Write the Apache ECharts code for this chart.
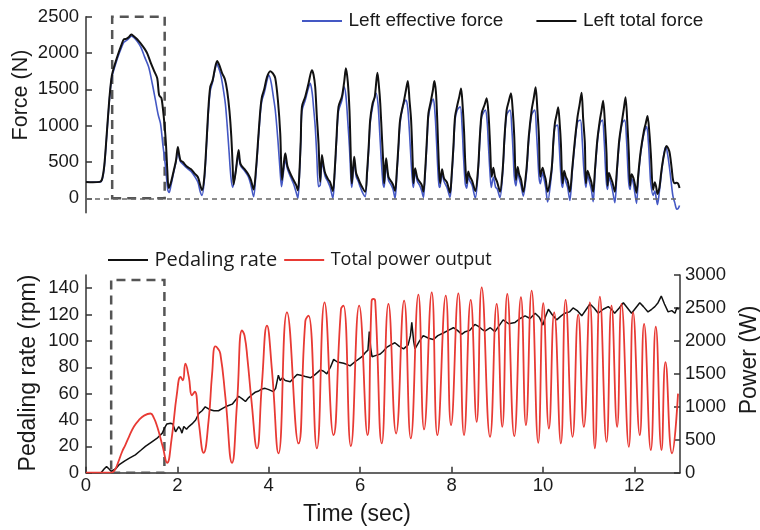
<!DOCTYPE html>
<html>
<head>
<meta charset="utf-8">
<script src="https://cdn.jsdelivr.net/npm/echarts@6/dist/echarts.min.js"></script>
<style>html,body{margin:0;padding:0;background:#fff}#c{width:760px;height:530px}</style>
</head>
<body>
<div id="c"></div>
<script>
// ---- Data (time in s) ----
const timeTicks = [0, 2, 4, 6, 8, 10, 12];
const forceTicks = [0, 500, 1000, 1500, 2000, 2500];
const rateTicks = [0, 20, 40, 60, 80, 100, 120, 140];
const powerTicks = [0, 500, 1000, 1500, 2000, 2500, 3000];

const totalForce = [
[0,225],[0.15,220],[0.3,226],[0.35,260],[0.4,450],[0.45,850],[0.5,1280],[0.54,1560],[0.57,1700],[0.62,1820],[0.7,1980],[0.78,2120],[0.83,2190],[0.88,2195],[0.94,2220],[0.99,2255],[1.04,2235],[1.12,2190],[1.2,2130],[1.28,2060],[1.34,1995],[1.42,1860],[1.5,1740],[1.56,1650],[1.6,1420],[1.65,1380],[1.68,1250],[1.72,1000],[1.75,750],[1.78,380],[1.81,140],[1.86,220],[1.92,380],[1.97,520],[2.01,705],[2.04,600],[2.07,520],[2.12,500],[2.2,440],[2.3,400],[2.38,340],[2.45,290],[2.5,180],[2.54,110],
[2.59,300],[2.64,800],[2.68,1250],[2.72,1536],[2.77,1620],[2.82,1780],[2.87,1889],[2.92,1830],[2.98,1720],[3.04,1640],[3.09,1480],[3.14,1200],[3.18,850],[3.21,450],[3.23,190],[3.28,380],[3.34,665],[3.37,500],[3.4,450],[3.47,400],[3.55,330],[3.61,250],[3.668,120],
[3.72,400],[3.777,894],[3.82,1250],[3.851,1398],[3.9,1500],[3.961,1669],[4.033,1750],[4.09,1720],[4.142,1654],[4.2,1350],[4.251,894],[4.289,252],[4.32,420],[4.361,619],[4.411,436],[4.48,330],[4.542,252],[4.6,180],[4.638,110],
[4.67,350],[4.7,800],[4.726,1260],[4.798,1398],[4.87,1580],[4.944,1764],[4.98,1700],[5.016,1536],[5.05,1150],[5.089,757],[5.126,228],[5.163,596],[5.2,450],[5.235,344],[5.3,260],[5.344,220],[5.403,100],
[5.44,350],[5.48,800],[5.526,1260],[5.6,1398],[5.65,1600],[5.688,1789],[5.73,1600],[5.766,1215],[5.79,700],[5.803,389],[5.818,206],[5.869,572],[5.913,344],[5.96,270],[6.0,206],[6.109,90],
[6.15,350],[6.19,750],[6.219,1077],[6.27,1300],[6.32,1398],[6.378,1728],[6.41,1550],[6.44,1307],[6.48,800],[6.51,435],[6.525,206],[6.568,550],[6.619,297],[6.68,230],[6.72,183],[6.765,100],
[6.8,350],[6.84,750],[6.874,1077],[6.962,1352],[7.0,1480],[7.043,1614],[7.08,1350],[7.115,1077],[7.151,481],[7.166,206],[7.202,413],[7.253,275],[7.3,230],[7.348,183],[7.384,91],
[7.42,350],[7.46,800],[7.494,1170],[7.545,1329],[7.59,1480],[7.624,1614],[7.66,1450],[7.69,1031],[7.72,500],[7.749,206],[7.792,400],[7.836,275],[7.9,220],[7.967,77],
[8.0,300],[8.04,700],[8.077,1123],[8.127,1284],[8.17,1400],[8.208,1513],[8.24,1300],[8.273,940],[8.3,500],[8.332,206],[8.367,367],[8.4,300],[8.45,240],[8.52,100],
[8.58,400],[8.62,850],[8.66,1170],[8.72,1280],[8.769,1376],[8.81,1150],[8.842,757],[8.878,297],[8.914,420],[8.95,300],[9.0,220],[9.06,90],
[9.12,400],[9.16,850],[9.206,1215],[9.25,1330],[9.301,1445],[9.34,1200],[9.373,848],[9.41,252],[9.447,430],[9.48,330],[9.52,260],[9.57,90],
[9.64,400],[9.69,850],[9.753,1215],[9.8,1380],[9.84,1527],[9.88,1200],[9.913,848],[9.941,297],[9.993,420],[10.03,330],[10.06,260],[10.103,90],
[10.19,400],[10.23,800],[10.262,1032],[10.3,1150],[10.334,1252],[10.37,1000],[10.393,757],[10.43,206],[10.466,380],[10.5,300],[10.54,240],[10.59,90],
[10.64,400],[10.7,800],[10.758,1123],[10.8,1280],[10.846,1453],[10.88,1100],[10.918,757],[10.94,206],[10.977,380],[11.02,300],[11.06,220],[11.1,90],
[11.14,400],[11.19,800],[11.246,1077],[11.28,1200],[11.318,1343],[11.36,1000],[11.392,620],[11.414,174],[11.443,350],[11.48,290],[11.52,220],[11.574,90],
[11.62,400],[11.67,800],[11.733,1077],[11.77,1230],[11.808,1390],[11.85,1000],[11.88,620],[11.908,174],[11.939,330],[11.98,280],[12.01,200],[12.048,77],
[12.09,350],[12.14,650],[12.214,940],[12.25,1030],[12.289,1132],[12.33,900],[12.361,619],[12.411,114],[12.448,220],[12.48,150],[12.507,60],
[12.55,150],[12.595,389],[12.65,600],[12.704,720],[12.74,690],[12.776,619],[12.82,400],[12.848,252],[12.885,206],[12.93,215],[12.96,200],[12.99,140]
];

const effectiveForce = [
[0,220],[0.3,222],[0.35,250],[0.4,430],[0.45,830],[0.5,1260],[0.54,1540],[0.57,1680],[0.62,1790],[0.7,1950],[0.78,2080],[0.83,2150],[0.88,2170],[0.94,2200],[0.99,2230],[1.05,2210],[1.12,2160],[1.2,2080],[1.28,1950],[1.37,1810],[1.45,1580],[1.52,1350],[1.58,1150],[1.63,1030],[1.68,750],[1.74,435],[1.79,114],[1.82,80],[1.86,180],[1.92,360],[1.97,500],[2.01,650],[2.04,560],[2.07,500],[2.12,470],[2.2,420],[2.3,370],[2.38,300],[2.45,220],[2.5,90],[2.54,40],
[2.59,250],[2.64,750],[2.68,1200],[2.72,1480],[2.77,1600],[2.82,1760],[2.86,1860],[2.9,1800],[2.95,1700],[3.0,1520],[3.05,1300],[3.09,1000],[3.13,650],[3.17,300],[3.21,150],[3.26,300],[3.32,560],[3.34,600],[3.37,470],[3.4,430],[3.47,380],[3.55,300],[3.61,180],[3.668,20],
[3.72,350],[3.777,850],[3.82,1200],[3.851,1350],[3.9,1450],[3.961,1620],[4.0,1697],[4.05,1600],[4.1,1400],[4.142,1215],[4.2,800],[4.251,350],[4.28,160],[4.32,350],[4.361,527],[4.411,400],[4.48,290],[4.542,200],[4.6,80],[4.638,0],
[4.67,300],[4.7,760],[4.726,1200],[4.798,1350],[4.86,1500],[4.907,1582],[4.95,1450],[4.98,1250],[5.016,990],[5.05,600],[5.089,160],[5.126,180],[5.163,500],[5.2,400],[5.235,300],[5.3,220],[5.344,150],[5.403,0],
[5.44,300],[5.48,760],[5.526,1200],[5.6,1350],[5.65,1536],[5.69,1400],[5.73,1050],[5.766,700],[5.8,250],[5.818,150],[5.869,500],[5.913,300],[5.96,230],[6.0,160],[6.05,80],[6.109,22],
[6.15,300],[6.19,700],[6.219,1030],[6.27,1250],[6.35,1445],[6.39,1300],[6.42,1000],[6.46,550],[6.5,200],[6.525,150],[6.568,480],[6.619,250],[6.68,180],[6.72,120],[6.765,0],
[6.8,300],[6.84,700],[6.874,1030],[6.93,1250],[7.0,1352],[7.04,1250],[7.08,900],[7.12,450],[7.151,200],[7.166,150],[7.202,360],[7.253,230],[7.3,180],[7.348,100],[7.384,10],
[7.42,300],[7.46,750],[7.494,1120],[7.545,1280],[7.6,1367],[7.64,1150],[7.67,800],[7.7,400],[7.73,150],[7.749,160],[7.792,340],[7.836,230],[7.9,150],[7.967,10],
[8.0,250],[8.04,650],[8.077,1080],[8.127,1220],[8.19,1260],[8.23,1000],[8.26,600],[8.3,200],[8.332,140],[8.367,300],[8.4,240],[8.45,180],[8.52,0],
[8.58,350],[8.62,800],[8.66,1120],[8.74,1215],[8.78,1050],[8.81,700],[8.842,350],[8.87,150],[8.914,290],[8.966,150],[9.0,130],[9.06,10],
[9.12,350],[9.16,800],[9.206,1150],[9.28,1215],[9.32,950],[9.35,600],[9.373,300],[9.41,170],[9.447,380],[9.48,270],[9.52,180],[9.57,30],
[9.64,350],[9.69,800],[9.753,1150],[9.82,1215],[9.86,900],[9.89,550],[9.913,300],[9.941,200],[9.993,350],[10.03,250],[10.06,150],[10.103,-50],
[10.19,350],[10.23,760],[10.262,980],[10.32,1009],[10.35,800],[10.38,450],[10.41,200],[10.43,150],[10.466,320],[10.5,230],[10.54,150],[10.59,-30],
[10.64,350],[10.7,760],[10.758,1050],[10.82,1077],[10.86,800],[10.89,450],[10.918,250],[10.94,150],[10.977,320],[11.02,220],[11.06,120],[11.1,-47],
[11.14,350],[11.19,760],[11.246,1030],[11.3,1077],[11.34,800],[11.37,400],[11.392,200],[11.414,120],[11.443,290],[11.48,220],[11.52,120],[11.574,-60],
[11.62,350],[11.67,760],[11.733,1030],[11.79,1077],[11.83,800],[11.86,400],[11.88,200],[11.908,120],[11.939,270],[11.98,200],[12.01,80],[12.048,-70],
[12.09,300],[12.14,620],[12.214,900],[12.27,986],[12.31,750],[12.34,400],[12.361,200],[12.411,40],[12.448,100],[12.48,0],[12.507,-87],
[12.55,100],[12.595,350],[12.65,619],[12.69,710],[12.73,600],[12.776,389],[12.82,150],[12.848,22],[12.885,-60],[12.93,-150],[12.96,-140],[12.99,-100]
];

const pedalingRate = [
[0,0],[0.33,0],[0.4,3],[0.45,4.6],[0.5,3],[0.55,1],[0.58,0.5],[0.65,3],[0.72,5.9],[0.85,9],[0.95,11],[1.08,13.5],[1.2,17],[1.3,20],[1.45,23.6],[1.55,26],[1.67,30],[1.72,34],[1.77,37],[1.85,37.5],[1.9,37],[1.96,31],[2.03,35],[2.07,33],[2.1,30],[2.14,35],[2.17,36],[2.2,33],[2.25,35],[2.32,37],[2.4,40],[2.47,45],[2.54,47],[2.61,50],[2.7,48],[2.8,47],[2.9,47],[3.0,49],[3.05,50],[3.12,51],[3.2,52],[3.27,55],[3.34,58],[3.42,56],[3.49,54],[3.56,57],[3.63,59],[3.7,61],[3.78,62],[3.85,63.5],[3.92,64],[4.0,63],[4.1,61.5],[4.15,64],[4.21,74],[4.25,70],[4.3,72],[4.36,70],[4.47,69],[4.55,72],[4.62,74.5],[4.7,74],[4.8,73],[4.91,72],[5.0,74],[5.13,78],[5.2,77],[5.27,75],[5.35,80],[5.42,86],[5.5,84],[5.64,83],[5.72,82],[5.78,81],[5.88,84],[5.96,86],[6.04,88],[6.11,91],[6.17,93],[6.2,107],[6.23,95],[6.26,88],[6.35,89],[6.44,90],[6.5,92],[6.58,95],[6.67,97],[6.76,98.6],[6.85,96],[6.95,94],[7.05,97],[7.1,104],[7.13,114],[7.17,100],[7.2,94],[7.3,100],[7.38,104],[7.5,102],[7.6,101],[7.7,104],[7.82,106],[7.93,108],[8.04,110],[8.13,108],[8.22,105],[8.3,107],[8.4,108],[8.51,112.5],[8.59,111],[8.66,109],[8.73,107.4],[8.85,110],[8.95,107],[9.05,112],[9.13,116],[9.25,113],[9.39,114],[9.5,117],[9.61,119],[9.72,117],[9.83,121],[9.92,118],[10.0,112],[10.05,118],[10.12,124],[10.2,120],[10.3,116],[10.4,119],[10.48,121],[10.58,122],[10.66,125],[10.75,123],[10.85,119],[10.95,124],[11.03,128],[11.12,125],[11.21,121],[11.32,124],[11.43,126],[11.5,124],[11.57,121],[11.67,125],[11.76,129],[11.85,125],[11.94,121],[12.03,125],[12.12,129],[12.2,126],[12.3,122],[12.38,124],[12.45,126],[12.52,129],[12.59,134],[12.66,128],[12.74,122],[12.82,123],[12.89,121],[12.93,125],[12.97,124]
];

const powerOutput = [
[0,0],[0.55,0],[0.62,30],[0.7,150],[0.79,318],[0.86,420],[0.94,545],[1.05,700],[1.16,800],[1.28,870],[1.41,898],[1.48,840],[1.56,696],[1.68,393],[1.775,151],[1.87,494],[1.99,1200],[2.07,1452],[2.12,1402],[2.175,1654],[2.25,1452],[2.32,1175],[2.38,1230],[2.47,747],[2.575,302],[2.684,797],[2.76,1500],[2.83,1916],[2.88,1890],[2.94,1805],[3.05,1149],[3.196,151],[3.305,1049],[3.414,2158],[3.47,2080],[3.537,1704],[3.62,1100],[3.742,369],[3.85,1350],[3.961,2233],[4.07,1553],[4.214,293],[4.398,2434],[4.651,444],[4.80,2300],[4.87,2384],[5.053,369],[5.22,2586],[5.416,570],[5.58,2480],[5.635,2536],[5.797,404],[5.978,2536],[6.16,570],[6.25,2600],[6.291,2637],[6.33,2600],[6.474,444],[6.619,2561],[6.787,595],[6.962,2611],[7.108,520],[7.274,2702],[7.399,656],[7.567,2737],[7.69,570],[7.873,2687],[7.989,721],[8.149,2722],[8.273,570],[8.42,2622],[8.55,772],[8.66,2813],[8.842,545],[8.988,2561],[9.111,696],[9.22,2712],[9.373,555],[9.519,2662],[9.628,721],[9.753,2762],[9.897,454],[10.007,2571],[10.131,671],[10.247,2434],[10.393,444],[10.496,2622],[10.649,545],[10.772,2400],[10.896,696],[11.027,2586],[11.137,369],[11.246,2672],[11.392,469],[11.501,2536],[11.624,696],[11.72,2561],[11.88,393],[11.974,2434],[12.12,570],[12.214,2259],[12.361,343],[12.47,2218],[12.595,343],[12.682,1678],[12.826,293],[12.957,1200]
];

const seriesNames = ['Left effective force', 'Left total force', 'Pedaling rate', 'Total power output'];

// ---- Styles ----
const FONT = '"Liberation Sans", Arial, sans-serif';
const TXT = '#1a1a1a';
const AX = '#333';
const BLUE = '#4458c4';
const RED = '#e83a34';
const BLK = '#111';
const LINE_ICON = 'path://M0,0 L40,0 L40,2 L0,2 Z';
const plain = v => String(v);

const axisCommon = {
  axisLine: { show: true, lineStyle: { color: AX, width: 1.5 } },
  axisTick: { show: true, inside: true, length: 6, lineStyle: { color: AX, width: 1.5 } },
  splitLine: { show: false },
  axisLabel: { color: TXT, fontSize: 18.5, fontFamily: FONT, formatter: plain }
};

const chart = echarts.init(document.getElementById('c'), null, { renderer: 'canvas' });
chart.setOption({
  animation: false,
  backgroundColor: '#fff',
  textStyle: { fontFamily: FONT },
  grid: [
    { left: 86, right: 80, top: 16.7, height: 196.1 },
    { left: 86, right: 80, top: 275, height: 197.7 }
  ],
  legend: [
    {
      data: [
        { name: seriesNames[0], icon: LINE_ICON },
        { name: seriesNames[1], icon: LINE_ICON }
      ],
      left: 297, top: 6,
      itemWidth: 43, itemHeight: 2, itemGap: 33,
      textStyle: { fontSize: 19, color: TXT, fontFamily: FONT, lineHeight: 20 }
    },
    {
      data: [
        { name: seriesNames[2], icon: LINE_ICON, textStyle: { fontSize: 20, fontFamily: '"Open Sans", sans-serif', color: TXT } },
        { name: seriesNames[3], icon: LINE_ICON, textStyle: { fontSize: 18, fontFamily: '"Open Sans", sans-serif', color: TXT } }
      ],
      left: 103, top: 243,
      itemWidth: 43, itemHeight: 2, itemGap: 7,
      textStyle: { lineHeight: 24, color: TXT }
    }
  ],
  xAxis: [
    { type: 'value', gridIndex: 0, min: 0, max: 13, show: false },
    Object.assign({}, axisCommon, {
      type: 'value', gridIndex: 1, min: 0, max: 13,
      axisTick: Object.assign({}, axisCommon.axisTick, { customValues: timeTicks }),
      axisLabel: Object.assign({}, axisCommon.axisLabel, { customValues: timeTicks, margin: 4 })
    })
  ],
  yAxis: [
    Object.assign({}, axisCommon, {
      type: 'value', gridIndex: 0, min: -200, max: 2500,
      axisTick: Object.assign({}, axisCommon.axisTick, { customValues: forceTicks }),
      axisLabel: Object.assign({}, axisCommon.axisLabel, { customValues: forceTicks, margin: 7 })
    }),
    Object.assign({}, axisCommon, {
      type: 'value', gridIndex: 1, min: 0, max: 150,
      axisTick: Object.assign({}, axisCommon.axisTick, { customValues: rateTicks }),
      axisLabel: Object.assign({}, axisCommon.axisLabel, { customValues: rateTicks, margin: 7 })
    }),
    Object.assign({}, axisCommon, {
      type: 'value', gridIndex: 1, position: 'right', min: 0, max: 3000, interval: 500,
      axisTick: Object.assign({}, axisCommon.axisTick, { customValues: powerTicks }),
      axisLabel: Object.assign({}, axisCommon.axisLabel, { customValues: powerTicks, margin: 5 })
    })
  ],
  series: [
    {
      name: seriesNames[0], type: 'line', xAxisIndex: 0, yAxisIndex: 0,
      data: effectiveForce, symbol: 'none', smooth: 0.3,
      lineStyle: { color: BLUE, width: 1.6 }, itemStyle: { color: BLUE },
      markLine: {
        silent: true, symbol: ['none', 'none'], label: { show: false },
        lineStyle: { color: '#666', width: 1.5, type: [5, 4] },
        data: [{ yAxis: 0 }]
      },
      markArea: {
        silent: true,
        itemStyle: { color: 'rgba(0,0,0,0)', borderColor: '#555', borderWidth: 2.5, borderType: [9, 6] },
        data: [[{ xAxis: 0.573, yAxis: 0 }, { xAxis: 1.722, yAxis: 2500 }]]
      }
    },
    {
      name: seriesNames[1], type: 'line', xAxisIndex: 0, yAxisIndex: 0,
      data: totalForce, symbol: 'none', smooth: 0.3,
      lineStyle: { color: BLK, width: 2 }, itemStyle: { color: BLK }
    },
    {
      name: seriesNames[2], type: 'line', xAxisIndex: 1, yAxisIndex: 1,
      data: pedalingRate, symbol: 'none',
      lineStyle: { color: BLK, width: 1.5 }, itemStyle: { color: BLK },
      markArea: {
        silent: true,
        itemStyle: { color: 'rgba(0,0,0,0)', borderColor: '#555', borderWidth: 2.5, borderType: [9, 6] },
        data: [[{ xAxis: 0.551, yAxis: 0 }, { xAxis: 1.716, yAxis: 146.3 }]]
      }
    },
    {
      name: seriesNames[3], type: 'line', xAxisIndex: 1, yAxisIndex: 2,
      data: powerOutput, symbol: 'none', smooth: 0.5,
      lineStyle: { color: RED, width: 1.8 }, itemStyle: { color: RED }
    }
  ],
  graphic: [
    { type: 'text', x: 21, y: 95, rotation: Math.PI / 2,
      style: { text: 'Force (N)', font: '21.5px ' + FONT, fill: TXT, textAlign: 'center', textVerticalAlign: 'middle' } },
    { type: 'text', x: 29, y: 373, rotation: Math.PI / 2,
      style: { text: 'Pedaling rate (rpm)', font: '23px ' + FONT, fill: TXT, textAlign: 'center', textVerticalAlign: 'middle' } },
    { type: 'text', x: 750, y: 360, rotation: Math.PI / 2,
      style: { text: 'Power (W)', font: '23px ' + FONT, fill: TXT, textAlign: 'center', textVerticalAlign: 'middle' } },
    { type: 'text', x: 357, y: 515,
      style: { text: 'Time (sec)', font: '23px ' + FONT, fill: TXT, textAlign: 'center', textVerticalAlign: 'middle' } }
  ]
});
</script>
</body>
</html>
